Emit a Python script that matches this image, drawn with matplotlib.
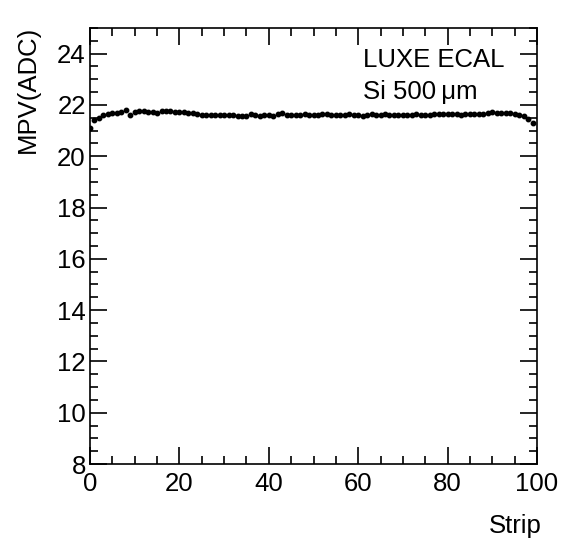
import matplotlib
matplotlib.use("Agg")
import matplotlib.pyplot as plt
import numpy as np

# MPV per strip
strips = np.arange(100)
mpv = [21.10, 21.42, 21.50, 21.60, 21.64, 21.67, 21.70, 21.74, 21.82, 21.62,
       21.72, 21.78, 21.77, 21.74, 21.72, 21.70, 21.76, 21.75, 21.75, 21.74,
       21.74, 21.73, 21.70, 21.68, 21.66, 21.62, 21.62, 21.62, 21.61, 21.60,
       21.59, 21.62, 21.60, 21.57, 21.58, 21.58, 21.64, 21.60, 21.58, 21.60,
       21.62, 21.58, 21.64, 21.68, 21.60, 21.62, 21.62, 21.62, 21.63, 21.62,
       21.60, 21.60, 21.64, 21.64, 21.62, 21.60, 21.62, 21.62, 21.64, 21.62,
       21.60, 21.58, 21.62, 21.64, 21.60, 21.62, 21.66, 21.62, 21.60, 21.62,
       21.62, 21.60, 21.62, 21.64, 21.62, 21.62, 21.62, 21.64, 21.64, 21.66,
       21.64, 21.66, 21.64, 21.62, 21.64, 21.64, 21.66, 21.66, 21.66, 21.70,
       21.74, 21.70, 21.70, 21.70, 21.68, 21.66, 21.62, 21.56, 21.46, 21.28]

xticks = [0, 20, 40, 60, 80, 100]
yticks = [8, 10, 12, 14, 16, 18, 20, 22, 24]
labels = ["LUXE ECAL", "Si 500\u2009μm"]

plt.rcParams['font.family'] = ['Liberation Sans', 'DejaVu Sans']
plt.rcParams['font.size'] = 18.5

fig = plt.figure(figsize=(5.67, 5.54), dpi=100)
ax = fig.add_axes([90/567, 1-464/554, 447/567, 436/554])

ax.plot(strips, mpv, 'o', color='black', ms=3.2, mec='black')

ax.set_xlim(0, 100)
ax.set_ylim(8, 25)
ax.set_xticks(xticks)
ax.set_yticks(yticks)
ax.set_xticks(np.arange(0, 101, 5), minor=True)
ax.set_yticks(np.arange(8, 25.01, 0.5), minor=True)
ax.tick_params(which='both', direction='in', top=True, right=True, width=1.2)
ax.tick_params(which='major', length=12)
ax.tick_params(which='minor', length=6)
ax.tick_params(axis='x', pad=6)
ax.tick_params(axis='y', pad=3)
for s in ax.spines.values():
    s.set_linewidth(1.2)

ax.set_xlabel('Strip', loc='right')
ax.xaxis.set_label_coords(1.01, -0.115)
ax.set_ylabel('MPV(ADC)', loc='top')
ax.yaxis.set_label_coords(-0.113, 1.005)

ax.text(61, 23.47, labels[0], va='baseline', ha='left')
ax.text(61, 22.22, labels[1], va='baseline', ha='left')

fig.savefig('out.png', dpi=100)
